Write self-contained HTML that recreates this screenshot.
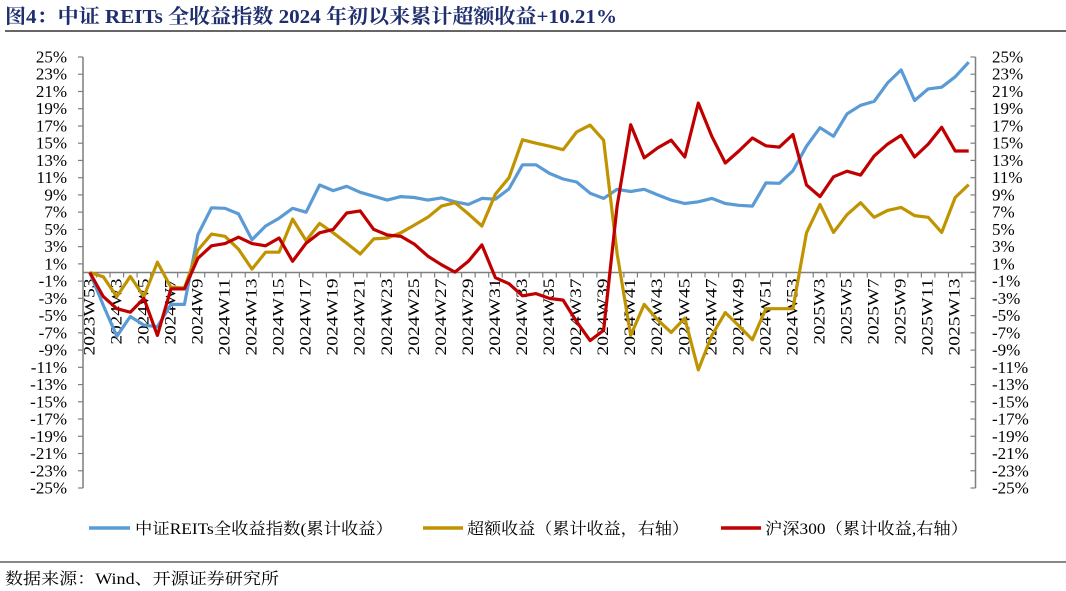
<!DOCTYPE html>
<html><head><meta charset="utf-8"><style>
html,body{margin:0;padding:0;background:#fff;}
svg{display:block;}
.ser{font-family:"Liberation Serif","Noto Serif CJK SC",serif;}
</style></head><body>
<svg id="chart" width="1066" height="591" viewBox="0 0 1066 591" xmlns="http://www.w3.org/2000/svg">
<text class="ser" x="5" y="23" font-size="20" font-weight="bold" fill="#1f2f6e" textLength="612" lengthAdjust="spacingAndGlyphs">图4：中证 REITs 全收益指数 2024 年初以来累计超额收益+10.21%</text>
<line x1="5" y1="31" x2="1066" y2="31" stroke="#333" stroke-width="1.5"/>
<g id="axes"></g>
<g id="series"></g>
<g>
  <g>
    <line x1="89" y1="528" x2="130" y2="528" stroke="#5b9bd5" stroke-width="3.5"/>
    <text class="ser" x="135" y="534" font-size="16" fill="#000" textLength="258" lengthAdjust="spacingAndGlyphs">中证REITs全收益指数(累计收益）</text>
  </g>
  <g>
    <line x1="423" y1="528" x2="463" y2="528" stroke="#c09400" stroke-width="3.5"/>
    <text class="ser" x="467" y="534" font-size="16" fill="#000" textLength="222" lengthAdjust="spacingAndGlyphs">超额收益（累计收益，右轴）</text>
  </g>
  <g>
    <line x1="721" y1="528" x2="761" y2="528" stroke="#c00000" stroke-width="3.5"/>
    <text class="ser" x="765" y="534" font-size="16" fill="#000" textLength="203" lengthAdjust="spacingAndGlyphs">沪深300（累计收益,右轴）</text>
  </g>
</g>
<line x1="0" y1="562" x2="1066" y2="562" stroke="#888" stroke-width="2"/>
<text class="ser" x="5" y="584" font-size="16" fill="#000" textLength="274" lengthAdjust="spacingAndGlyphs">数据来源：Wind、开源证券研究所</text>
</svg>
<script>
const categories = ["2023W53","2024W2","2024W3","2024W4","2024W5","2024W6","2024W7","2024W8","2024W9","2024W10","2024W11","2024W12","2024W13","2024W14","2024W15","2024W16","2024W17","2024W18","2024W19","2024W20","2024W21","2024W22","2024W23","2024W24","2024W25","2024W26","2024W27","2024W28","2024W29","2024W30","2024W31","2024W32","2024W33","2024W34","2024W35","2024W36","2024W37","2024W38","2024W39","2024W40","2024W41","2024W42","2024W43","2024W44","2024W45","2024W46","2024W47","2024W48","2024W49","2024W50","2024W51","2024W52","2024W53","2025W2","2025W3","2025W4","2025W5","2025W6","2025W7","2025W8","2025W9","2025W10","2025W11","2025W12","2025W13","2025W14"];
const reitsValues = [0,-3.8,-7.4,-5.1,-6.1,-6.3,-3.7,-3.7,4.4,7.5,7.45,6.8,3.8,5.4,6.3,7.45,7.0,10.15,9.5,10.0,9.3,8.85,8.4,8.8,8.7,8.4,8.65,8.2,7.9,8.6,8.5,9.7,12.5,12.5,11.5,10.85,10.5,9.2,8.6,9.65,9.4,9.65,9.0,8.4,8.0,8.2,8.6,8.0,7.8,7.7,10.4,10.35,11.8,14.65,16.8,15.8,18.4,19.4,19.85,22.0,23.5,19.95,21.3,21.5,22.7,24.4];
const excessValues = [0,-0.5,-2.8,-0.45,-2.8,1.2,-1.7,-1.8,2.6,4.45,4.2,2.7,0.4,2.35,2.35,6.2,3.7,5.7,4.6,3.4,2.15,3.9,4.0,4.6,5.5,6.4,7.7,8.1,6.8,5.4,9.1,11.0,15.4,15.0,14.65,14.25,16.3,17.1,15.35,2.2,-7.3,-3.7,-5.5,-6.95,-5.3,-11.3,-7.3,-4.65,-6.2,-7.8,-4.2,-4.2,-4.2,4.6,7.9,4.65,6.7,8.1,6.4,7.2,7.55,6.6,6.4,4.65,8.7,10.2];
const csi300Values = [0,-2.8,-4.2,-4.6,-3.0,-7.3,-1.9,-1.9,1.65,3.1,3.35,4.1,3.35,3.1,4.0,1.3,3.4,4.6,5.0,6.9,7.15,5.0,4.35,4.2,3.3,1.9,0.9,0.05,1.3,3.2,-0.6,-1.3,-2.7,-2.45,-3.0,-3.2,-5.7,-7.9,-6.7,7.7,17.15,13.3,14.45,15.35,13.4,19.65,15.8,12.7,14.1,15.6,14.7,14.55,16.0,10.15,8.8,11.1,11.75,11.3,13.5,14.9,15.9,13.4,14.9,16.85,14.1,14.1];
const yTickLabels = [25,23,21,19,17,15,13,11,9,7,5,3,1,-1,-3,-5,-7,-9,-11,-13,-15,-17,-19,-21,-23,-25];

const NS = "http://www.w3.org/2000/svg";
const plotL = 83, plotR = 975.5;
const yMax = 25, yMin = -25, yTop = 57, yBot = 488;
const band = (plotR - plotL) / categories.length;
function xPos(i){ return plotL + band * (i + 0.5); }
function yPos(v){ return yTop + (yMax - v) / (yMax - yMin) * (yBot - yTop); }
function mk(tag, attrs){ const e = document.createElementNS(NS, tag); for (const k in attrs) e.setAttribute(k, attrs[k]); return e; }

const axes = document.getElementById('axes');
const axisColor = "#7f7f7f";
let la = mk('line', {x1:plotL, y1:yTop, x2:plotL, y2:yBot, stroke:axisColor, 'stroke-width':1.5});


axes.appendChild(la);
let ra = mk('line', {x1:plotR, y1:yTop, x2:plotR, y2:yBot, stroke:axisColor, 'stroke-width':1.5});


axes.appendChild(ra);
yTickLabels.forEach(v => {
  const y = yPos(v);
  const t1 = mk('line', {x1:plotL-5, y1:y, x2:plotL, y2:y, stroke:axisColor, 'stroke-width':1.2});
  
  
  axes.appendChild(t1);
  const t2 = mk('line', {x1:plotR-5, y1:y, x2:plotR, y2:y, stroke:axisColor, 'stroke-width':1.2});
  
  
  axes.appendChild(t2);
  const l1 = mk('text', {x:67, y:y+5.5, 'text-anchor':'end', 'font-size':17, class:'ser', fill:'#000'});
  l1.textContent = v + '%';
  
  
  axes.appendChild(l1);
  const l2 = mk('text', {x:992, y:y+5.5, 'text-anchor':'start', 'font-size':17, class:'ser', fill:'#000'});
  l2.textContent = v + '%';
  
  
  axes.appendChild(l2);
});
const y0 = yPos(0);
const xa = mk('line', {x1:plotL, y1:y0, x2:plotR, y2:y0, stroke:axisColor, 'stroke-width':1.5});


axes.appendChild(xa);
for (let i = 1; i <= categories.length; i++) {
  const x = plotL + band * i;
  const tk = mk('line', {x1:x, y1:y0, x2:x, y2:y0+5, stroke:axisColor, 'stroke-width':1.2});
  
  
  axes.appendChild(tk);
}
categories.forEach((c, i) => {
  if (i % 2 !== 0) return;
  const x = xPos(i), y = y0 + 6;
  const t = mk('text', {x:x, y:y, transform:'rotate(-90 ' + x + ' ' + y + ')', 'text-anchor':'end', 'dominant-baseline':'central', 'font-size':16, class:'ser', fill:'#000', textLength: c.length * 11, lengthAdjust:'spacingAndGlyphs'});
  t.textContent = c;
  
  
  axes.appendChild(t);
});

const seriesG = document.getElementById('series');
function drawLine(vals, color, name){
  const pts = vals.map((v, i) => xPos(i).toFixed(1) + ',' + yPos(v).toFixed(1)).join(' ');
  const p = mk('polyline', {points:pts, fill:'none', stroke:color, 'stroke-width':3.2, 'stroke-linejoin':'round'});
  
  
  seriesG.appendChild(p);
}
drawLine(reitsValues, '#5b9bd5', 'reits-index-line');
drawLine(excessValues, '#c09400', 'excess-return-line');
drawLine(csi300Values, '#c00000', 'csi300-line');
</script>
</body></html>
